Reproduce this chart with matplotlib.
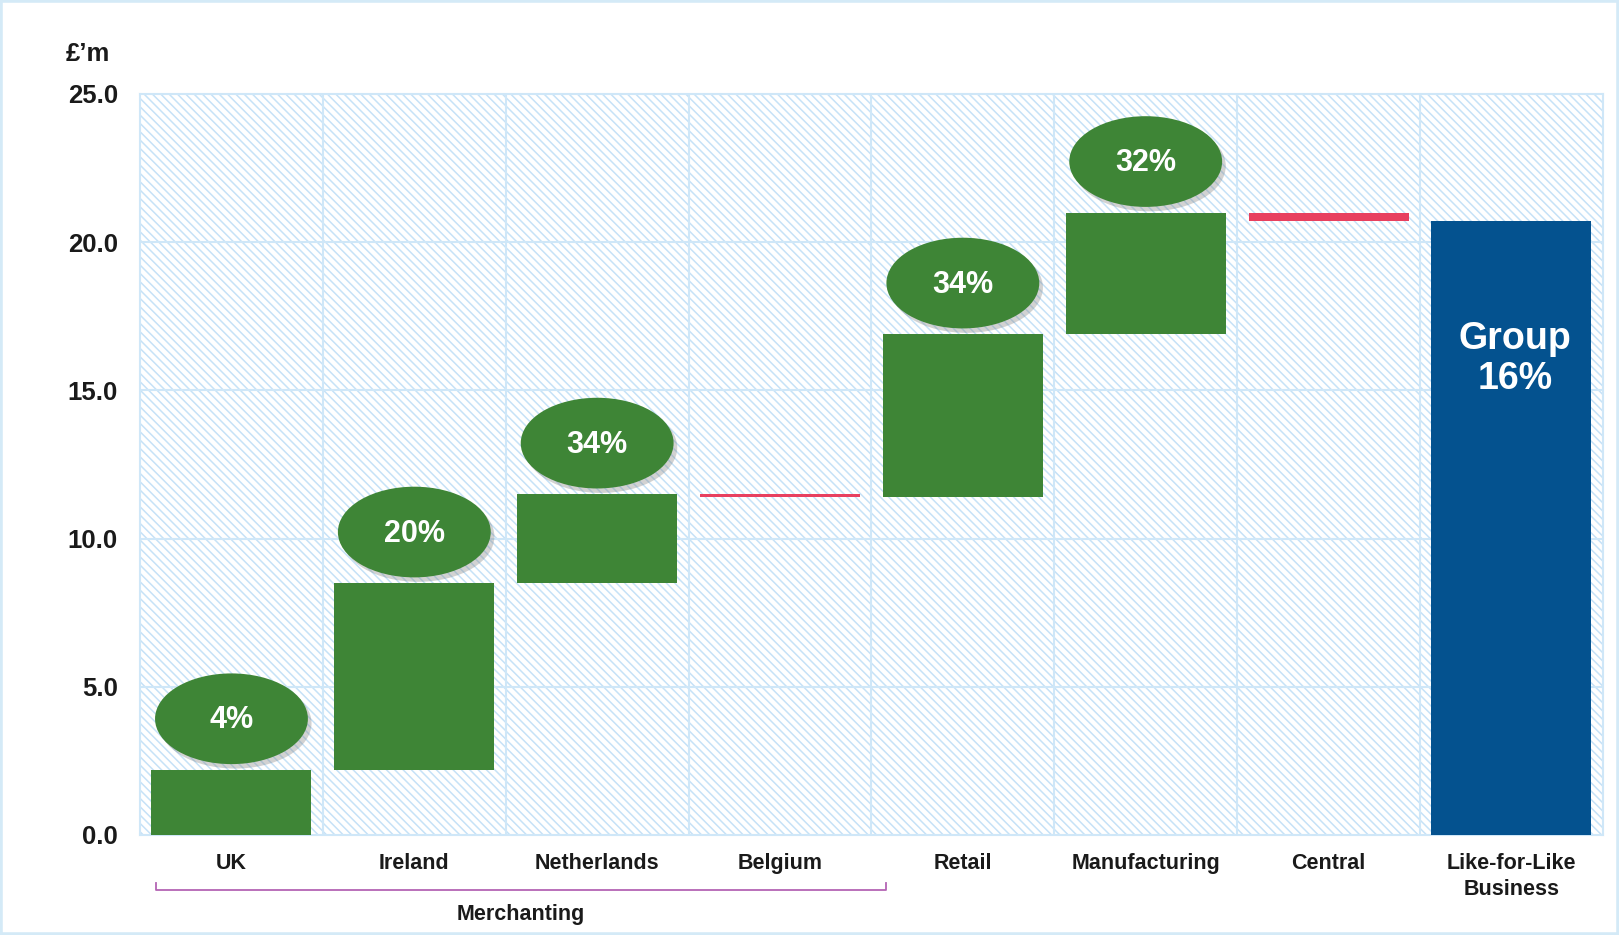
import numpy as np
import matplotlib
matplotlib.use('Agg')
from matplotlib import pyplot as plt
from matplotlib.patches import Ellipse, Rectangle
from matplotlib.transforms import blended_transform_factory

plt.rcParams['font.family'] = ['Liberation Sans', 'DejaVu Sans']
plt.rcParams['hatch.linewidth'] = 1.1
plt.rcParams['hatch.color'] = '#c6e2f7'

# data, £'m
categorias = ['UK', 'Ireland', 'Netherlands', 'Belgium', 'Retail',
              'Manufacturing', 'Central', 'Like-for-Like\nBusiness']
variacoes = [2.2, 6.3, 3.0, -0.1, 5.5, 4.1, -0.3]
total = 20.7
crescimento = ['4%', '20%', '34%', '', '34%', '32%', '']
rotulo_total = 'Group\n16%'
grupo = 'Merchanting'
grupo_ini, grupo_fim = 0, 3

verde = '#3e8536'
vermelho = '#e8405f'
azul = '#04528f'
azul_claro = '#cfe7f8'

fig = plt.figure(figsize=(16.19, 9.35), dpi=100)
ax = fig.add_axes([0.0865, 0.107, 0.9035, 0.7925])

# fundo hachurado
ax.add_patch(Rectangle((0, 0), 1, 1, transform=ax.transAxes, facecolor='white',
                       edgecolor='#c6e2f7', hatch='\\\\\\\\', lw=0, zorder=0))

n = len(variacoes)
fim = np.cumsum(variacoes)
ini = fim - np.array(variacoes)
x = np.arange(n + 1)
larg = 0.875

for i in range(n):
    cor = verde if variacoes[i] > 0 else vermelho
    ax.bar(x[i], variacoes[i], bottom=ini[i], width=larg, color=cor, zorder=3)
ax.bar(x[n], total, width=larg, color=azul, zorder=3)

# elipses com o crescimento
for i in range(n):
    if not crescimento[i]:
        continue
    yc = fim[i] + 1.72
    ax.add_patch(Ellipse((x[i] + 0.02, yc - 0.15), 0.836, 3.06, color='#808080',
                         alpha=0.35, lw=0, zorder=4))
    ax.add_patch(Ellipse((x[i], yc), 0.836, 3.06, color=verde, lw=0, zorder=5))
    ax.text(x[i], yc - 0.05, crescimento[i], ha='center', va='center', color='white',
            fontsize=22, fontweight='bold', zorder=6)

ax.text(x[n] + 0.02, 16.05, rotulo_total, ha='center', va='center', color='white',
        fontsize=27, fontweight='bold', linespacing=1.15, zorder=6)

ax.set_xlim(-0.5, n + 0.5)
ax.set_ylim(0, 25)
ax.set_yticks(np.arange(0, 26, 5))
ax.set_yticklabels(['%.1f' % v for v in np.arange(0, 26, 5)], fontsize=18.5, fontweight='bold')
ax.set_xticks(x)
ax.set_xticklabels(categorias, fontsize=15.5, fontweight='bold', linespacing=1.3)
ax.tick_params(axis='both', length=0, colors='#1a1a1a')
ax.tick_params(axis='y', pad=16)
ax.tick_params(axis='x', pad=13)

# grade
for v in np.arange(5, 25, 5):
    ax.axhline(v, color=azul_claro, lw=1.5, zorder=1)
for v in np.arange(0.5, n, 1):
    ax.axvline(v, color=azul_claro, lw=1.5, zorder=1)
for s in ax.spines.values():
    s.set_color(azul_claro)
    s.set_linewidth(1.5)

# chave do grupo Merchanting
tr = blended_transform_factory(ax.transData, ax.transAxes)
xa, xb = grupo_ini - 0.415, grupo_fim + 0.58
ax.plot([xa, xa, xb, xb], [-0.065, -0.074, -0.074, -0.065], color='#b464b4',
        lw=1.3, transform=tr, clip_on=False)
ax.text((xa + xb) / 2, -0.107, grupo, transform=tr, ha='center', va='center',
        fontsize=15.5, fontweight='bold', color='#1a1a1a')

fig.text(66 / 1619, 1 - 54 / 935, '£’m', ha='left', va='center', fontsize=18.5,
         fontweight='bold', color='#1a1a1a')

fig.add_artist(Rectangle((0, 0), 1, 1, transform=fig.transFigure, fill=False,
                         ec='#d4eaf7', lw=4))

fig.savefig('out.png', dpi=100)
